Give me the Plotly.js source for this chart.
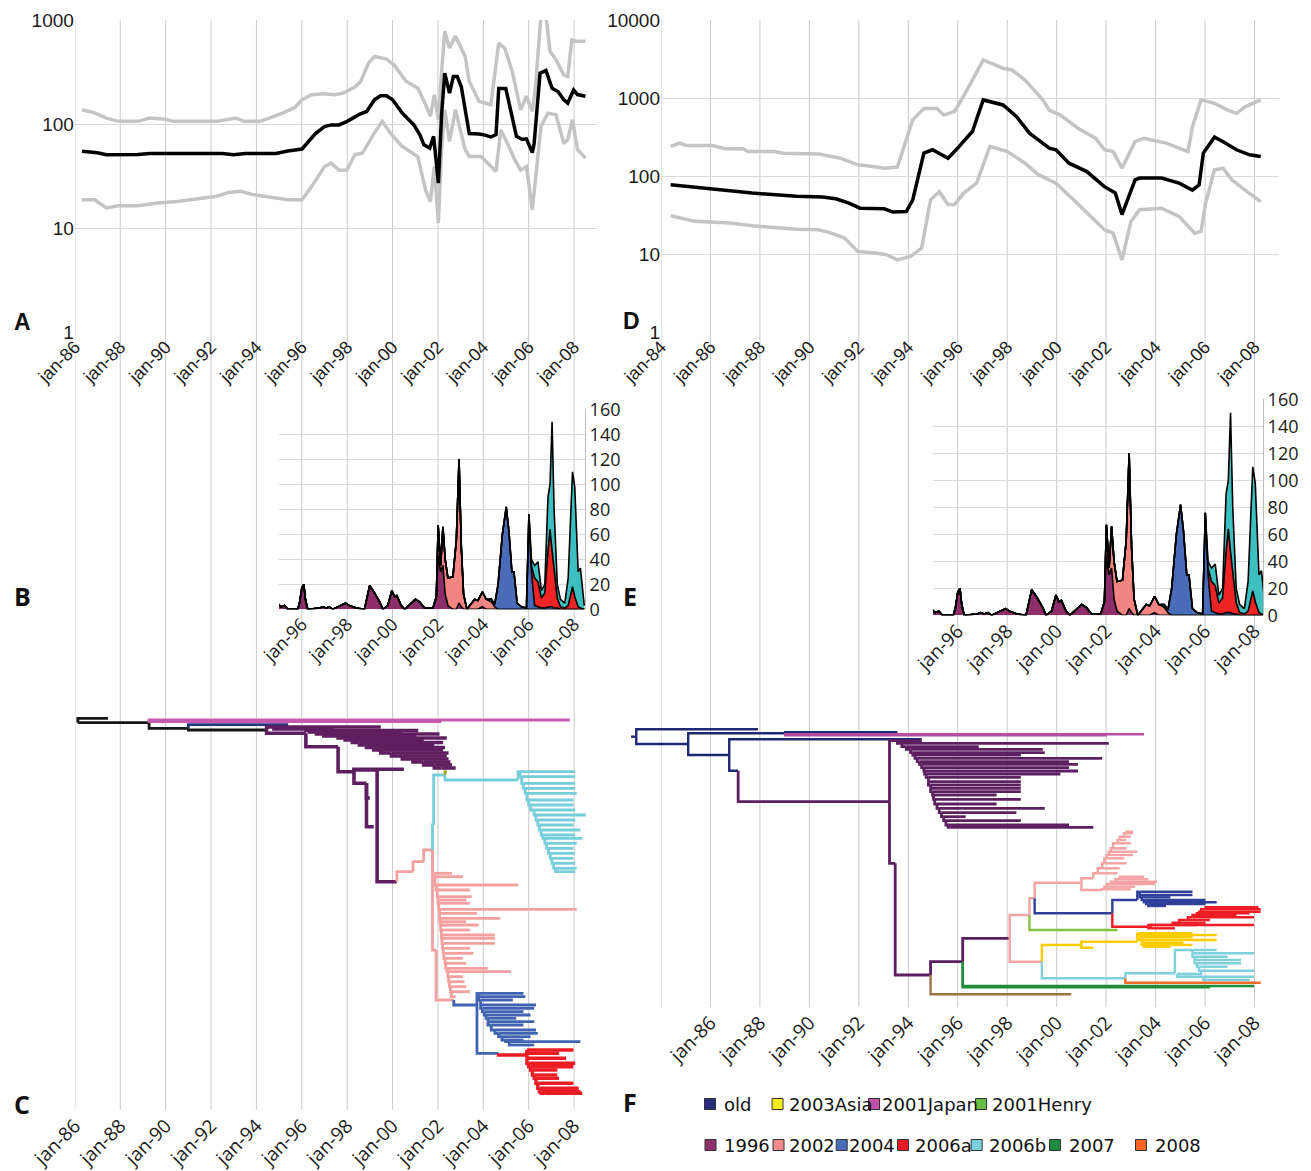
<!DOCTYPE html>
<html><head><meta charset="utf-8">
<script src="https://cdn.plot.ly/plotly-3.0.1.min.js"></script>
<style>html,body{margin:0;padding:0;background:#fff}#chart{width:1311px;height:1171px}</style>
</head><body><div id="chart"></div>
<script>
// ================= DATA =================
// Panel A: effective population size (median and 95% HPD), left dataset
const aMedYear=[1986.31,1986.99,1987.39,1987.91,1988.78,1989.3,1990.5,1991.5,1992.5,1993.0,1993.5,1994.86,1995.38,1996.01,1996.34,1996.6,1997.0,1997.29,1997.64,1998.0,1998.51,1998.86,1999.2,1999.47,1999.73,2000.0,2000.42,2000.94,2001.2,2001.38,2001.64,2001.81,2002.02,2002.16,2002.3,2002.51,2002.68,2002.85,2003.03,2003.38,2003.81,2004.0,2004.33,2004.56,2004.68,2004.99,2005.46,2005.72,2005.9,2006.16,2006.24,2006.5,2006.76,2007.03,2007.29,2007.55,2007.72,2007.98,2008.15,2008.5];
const aMed=[54.6,53,50.6,50.6,51,52,52,52,52,50.5,52,52,55,57.5,70.5,81,94.6,98,98,106,123,132,171,187,187,171,128,98,79,63,58.6,76,27,123,308,198,287,287,228,81,80,79,75,79,220,220,76,71,72,53,65,308,327,220,205,171,159,212,192,185];
const aUpYear=[1986.31,1986.87,1987.39,1987.91,1988.78,1989.30,1989.99,1990.33,1992.25,1993.11,1993.45,1994.15,1994.66,1995.18,1995.70,1996.01,1996.43,1996.95,1997.47,1997.82,1998.34,1998.60,1998.94,1999.20,1999.73,2000.07,2000.59,2001.11,2001.46,2001.67,2001.84,2002.02,2002.16,2002.30,2002.51,2002.77,2003.20,2003.38,2003.81,2004.33,2004.68,2004.94,2005.29,2005.64,2005.90,2006.16,2006.30,2006.54,2006.76,2006.94,2007.20,2007.55,2007.72,2007.90,2008.07,2008.50];
const aUp=[137,128,114,106,106,114,111,106,106,114,106,106,116,128,145,171,191,195,191,198,227,258,385,446,421,370,258,222,153,119,191,110,311,780,537,700,446,258,165,153,600,537,311,137,185,132,228,1100,1100,500,416,295,286,645,626,626];
const aLowYear=[1986.31,1986.87,1987.39,1987.91,1988.78,1989.65,1990.52,1991.39,1992.25,1992.78,1993.30,1993.82,1994.86,1995.38,1996.01,1996.43,1997.0,1997.29,1997.64,1997.98,1998.34,1998.68,1999.20,1999.55,1999.90,2000.42,2001.11,2001.46,2001.67,2001.84,2002.02,2002.16,2002.30,2002.51,2002.77,2003.20,2003.38,2003.90,2004.56,2004.77,2005.12,2005.38,2005.64,2005.90,2006.16,2006.30,2006.54,2006.85,2007.20,2007.55,2007.72,2007.93,2008.15,2008.50];
const aLow=[18.7,18.7,15.6,16.4,16.4,17.4,18,19,20.2,22,22.5,21,19.4,18.7,18.7,25,39,42,36,36,50.6,52.6,82,106,82,61,48.7,23,18,39,11.2,56.8,137,68,137,56.8,48.7,48.7,35,88,61,45.6,36,39,15,32,95,127,123,65,71,110,56.8,47];

// Panel D: right dataset
const dMedYear=[1984.39,1984.66,1985.90,1987.69,1989.47,1990.53,1991.07,1991.60,1992.05,1993.03,1993.38,1993.92,1994.18,1994.63,1994.98,1995.61,1996.05,1996.59,1997.03,1997.83,1998.37,1998.90,1999.26,1999.70,1999.97,2000.50,2001.22,2001.93,2002.37,2002.64,2003.17,2003.35,2004.24,2004.95,2005.49,2005.76,2005.93,2006.38,2006.73,2007.27,2007.80,2008.25];
const dMed=[77,75.5,70,60.5,55,53.7,51,45,38.7,38,34.5,35,49.6,197,217,169,238,372,944,815,580,354,290,227,217,146,114,73,60.5,32,89,94,94,81,66,77,197,315,275,217,187,178];
const dUpYear=[1984.39,1984.75,1985.01,1986.08,1986.62,1987.33,1987.51,1988.58,1988.93,1990.36,1991.25,1991.96,1992.49,1993.03,1993.56,1993.74,1994.18,1994.63,1995.16,1995.43,1995.87,1996.41,1997.03,1997.83,1998.19,1998.72,1999.44,1999.70,2000.15,2000.86,2001.57,2001.93,2002.28,2002.64,2003.17,2003.53,2004.42,2004.95,2005.31,2005.49,2005.84,2006.38,2006.91,2007.27,2007.62,2008.25];
const dUp=[239,264,246,246,223,223,206,206,196,192,169,139,133,126,130,196,525,735,735,604,671,1330,3070,2410,2290,1700,945,700,604,410,305,217,206,126,275,305,264,227,206,430,945,855,700,635,770,945];
const dLowYear=[1984.39,1984.84,1985.37,1986.80,1987.69,1988.58,1989.47,1990.36,1990.89,1991.42,1991.96,1992.67,1993.12,1993.56,1994.09,1994.54,1994.90,1995.25,1995.61,1995.87,1996.23,1996.76,1997.30,1998.01,1998.72,1999.26,1999.97,2000.68,2001.39,2001.93,2002.28,2002.64,2003.00,2003.35,2004.24,2004.95,2005.58,2005.84,2006.02,2006.38,2006.73,2007.09,2007.62,2008.25];
const dLow=[30.9,28.8,26.2,25,23,21.9,20.8,20.5,18.5,16,10.8,10.3,9.8,8.4,9.3,11.9,49.5,63,43,43,60,81,239,206,146,104,81,49.6,30.4,20.5,18.5,8.4,26,37,38.6,30.4,18.5,19.5,44.8,120,126,89,66,47];

// Panels B and E: sequences per sampling date by clade (stacked)
const hYear=[1994.97,1995.09,1995.24,1995.38,1995.82,1995.90,1996.00,1996.09,1996.16,1996.26,1996.78,1996.93,1997.07,1997.22,1997.37,1997.74,1997.93,1998.10,1998.40,1998.76,1998.99,1999.21,1999.43,1999.57,1999.79,1999.97,2000.09,2000.19,2000.38,2000.53,2000.82,2001.01,2001.19,2001.41,2001.78,2001.93,2002.01,2002.12,2002.22,2002.32,2002.44,2002.66,2002.81,2002.93,2003.03,2003.13,2003.28,2003.62,2003.76,2003.96,2004.13,2004.35,2004.50,2004.65,2004.84,2005.01,2005.13,2005.26,2005.35,2005.49,2005.68,2005.90,2006.01,2006.12,2006.26,2006.41,2006.56,2006.71,2006.85,2006.94,2007.03,2007.12,2007.26,2007.40,2007.59,2007.74,2007.84,2007.93,2008.03,2008.18,2008.28,2008.40,2008.45];
const h1996=[4,2,3,0,0,5,17,20,8,0,1,2,1,2,0,3,5,3,1,0,19,13,6,0,3,15,10,11,3,0,5,8,6,1,1,10,43,30,35,12,3,0,0,5,2,0,0,0,0,2,0,0,0,0,0,0,0,0,0,0,0,0,0,0,0,0,0,0,0,0,0,0,0,0,0,0,0,0,0,0,0,0,0];
const h2002=[0,0,0,0,0,0,0,0,0,0,0,0,0,0,0,0,0,0,0,0,0,0,0,0,0,0,0,0,0,0,0,0,0,0,0,0,24,5,31,28,22,26,55,115,48,12,0,8,7,12,8,6,2,0,0,0,0,0,0,0,0,0,0,0,0,0,0,0,0,0,0,0,0,0,0,0,0,0,0,0,0,0,0];
const h2004=[0,0,0,0,0,0,0,0,0,0,0,0,0,0,0,0,0,0,0,0,0,0,0,0,0,0,0,0,0,0,0,0,0,0,0,0,0,0,0,0,0,0,0,0,0,0,0,0,0,0,0,2,2,20,60,82,62,30,30,5,2,1,76,30,3,2,1,1,2,2,2,1,1,0,0,0,0,0,0,0,0,0,0];
const h2006a=[0,0,0,0,0,0,0,0,0,0,0,0,0,0,0,0,0,0,0,0,0,0,0,0,0,0,0,0,0,0,0,0,0,0,0,0,0,0,0,0,0,0,0,0,0,0,0,0,0,0,0,0,0,0,0,0,0,0,0,0,0,0,0,5,22,20,8,12,45,62,45,30,8,2,1,3,10,18,10,2,1,0,0];
const h2006b=[0,0,0,0,0,0,0,0,0,0,0,0,0,0,0,0,0,0,0,0,0,0,0,0,0,0,0,0,0,0,0,0,0,0,0,0,0,0,0,0,0,0,0,0,0,0,0,0,0,0,0,0,0,0,0,0,0,0,0,0,0,0,0,5,10,16,6,7,43,36,103,49,11,6,4,22,60,92,88,28,32,8,3];

// Panel C tree: node year, vertical order, parent, clade
const cNodeYear=[1986.13,1987.46,1989.27,2007.81,1991.00,1995.40,1994.45,2002.15,1996.18,1997.60,1998.30,2000.50,1998.85,1999.00,1999.17,1999.32,2000.19,2000.90,2001.37,2001.76,2001.81,2002.31,2002.39,2005.53,2001.92,2002.70,2003.72,2004.67,2005.92];
const cNodeRow=[22.7,18.3,22.7,20,28.3,24.7,30,21.7,33.3,46.7,71.7,69.3,83.3,98,126.7,70,181.7,171.7,161.7,150,125,75,71.7,80,250,300,305,353.3,355];
const cNodeParent=[-1,0,0,2,2,4,4,2,6,8,9,10,10,12,12,10,15,16,17,18,19,20,21,21,19,24,25,26,27];
const cNodeClade=['root','root','root','2001Japan','root','old','root','2001Japan','1996','1996','1996','1996','1996','1996','1996','1996','1996','2002','2002','2002','2006b','2006b','2003Asia','2006b','2002','2002','2004','2004','2006a'];
const cLad1996Start=[1994.77,1996.18,1996.34,1996.65,1996.97,1997.60,1997.91,1998.23,1998.54,1998.85,1999.17,1999.48,1999.95,2000.43,2000.90,2001.37,2001.84,2002.15];
const cLad1996Row=[27,29,30.5,32,34,36,38,40,42.5,45,47.5,50,53,56,59,62,65,68];
const cLad1996End=[1999.48,1997.44,2001.13,2000.43,2002.07,2001.05,2002.39,2001.37,2002.23,2001.84,2002.31,2002.23,2002.47,2002.39,2002.47,2002.55,2002.62,2002.78];
const cLad2006bStart=[2005.61,2005.69,2005.77,2005.85,2005.92,2006.00,2006.08,2006.24,2006.32,2006.40,2006.47,2006.55,2006.63,2006.71,2006.79,2006.87,2006.95,2007.02,2007.10,2007.18,2007.34];
const cLad2006bRow=[71.7,76.7,83.3,88.3,93.3,100,105,110,115,120,125,130,135,138.3,143.3,148.3,153.3,158.3,163.3,168.3,171.7];
const cLad2006bEnd=[2008.05,2008.05,2008.05,2008.05,2008.12,2007.97,2007.97,2008.05,2008.52,2008.05,2007.97,2008.28,2008.05,2008.36,2008.12,2007.97,2008.05,2007.97,2008.05,2008.12,2008.05];
const cLad2002Start=[2001.84,2001.87,2001.92,2001.97,2002.00,2002.00,2002.03,2002.07,2002.07,2002.07,2002.11,2002.12,2002.15,2002.15,2002.18,2002.20,2002.23,2002.26,2002.31,2002.34,2002.39,2002.43,2002.47,2002.51,2002.55,2002.59,2002.62];
const cLad2002Row=[173.3,176.7,185,190,196.7,200,203.3,209.3,213.3,218.3,221.7,225,230,235,238.3,243.3,248.3,253.3,258.3,263.3,268.3,271.7,276.7,281.7,286.7,291.7,296.7];
const cLad2002End=[2002.62,2003.10,2005.53,2003.41,2003.49,2003.25,2003.41,2008.12,2003.72,2004.75,2003.25,2003.80,2003.41,2004.51,2004.51,2004.51,2003.41,2003.57,2003.10,2003.25,2004.20,2005.22,2003.10,2003.17,2003.25,2003.41,2002.78];
const cLad2004Start=[2003.80,2003.80,2003.88,2003.88,2003.96,2004.04,2004.12,2004.20,2004.20,2004.35,2004.51,2004.67,2004.82,2004.98,2005.14,2005.22];
const cLad2004Row=[293.3,296.7,300,305,308.3,311.7,315,318.3,321.7,325,330,333.3,336.7,340,341.7,345];
const cLad2004End=[2005.77,2005.85,2005.30,2006.32,2006.24,2005.77,2006.08,2005.45,2006.24,2005.77,2006.32,2006.40,2006.08,2005.77,2008.28,2006.24];
const cLad2006aStart=[2005.92,2005.92,2005.92,2006.00,2006.08,2006.16,2006.24,2006.32,2006.40,2006.47,2006.55,2006.71];
const cLad2006aRow=[350,353.3,358.3,363.3,366.7,370,375,378.3,383.3,388.3,391.7,393.3];
const cLad2006aEnd=[2007.97,2007.34,2007.65,2008.05,2007.97,2007.26,2007.26,2007.34,2007.97,2008.20,2008.28,2008.36];

// Panel F tree
const fNodeYear=[1982.79,1983.00,1987.92,1985.10,1989.02,1993.56,2003.53,2002.02,1986.76,1994.54,1987.12,1993.24,1993.47,1994.90,2000.59,1996.20,1998.10,2007.98,2006.20,1998.90,1999.40,1999.11,2002.46,2001.00,2002.25,2003.26,2003.71,2007.98,2001.00,2001.48,2003.26,2002.78,2004.78,2008.25,2001.48,2001.84];
const fNodeRow=[36.7,36.7,29.3,44,33.3,32.3,34.3,35.3,55,39.3,70.7,101.7,163.3,275,294.3,261.7,238.3,286,287.3,215,261.7,198.3,230,182.7,213.3,200,226.7,225,245,247.7,241.7,278.3,273.3,282.7,178.3,190];
const fNodeParent=[-1,0,1,1,3,4,4,4,3,8,8,10,11,12,13,13,15,15,15,16,16,19,19,21,21,24,24,26,20,28,28,20,31,31,23,23];
const fNodeClade=['old','old','old','old','old','old','2001Japan','2001Japan','old','old','old','1996','1996','1996','other','1996','1996','2007','2007','2002','2002','2002','2001Henry','2002','2004','2004','2006a','2006a','2003Asia','2003Asia','2003Asia','2006b','2006b','2008','2002','2002'];
const fLad1996Start=[1993.56,1993.74,1993.92,1994.09,1994.18,1994.27,1994.36,1994.45,1994.54,1994.63,1994.66,1994.72,1994.81,1994.81,1994.90,1994.90,1994.98,1995.02,1995.07,1995.16,1995.25,1995.34,1995.43,1995.52,1995.61,1995.70];
const fLad1996Row=[40.7,43.3,46.7,49.3,52.7,55,58.3,61.7,64.3,67.7,71,74,77.3,81.7,85,88.3,91.7,95,99.3,104,108.3,112.7,116.7,120.7,125,127.3];
const fLad1996End=[1994.54,2002.11,1996.85,1999.44,1999.52,1998.55,2001.84,2000.50,2000.86,2000.50,2000.86,2000.15,1998.55,1998.55,1998.55,1998.55,1998.55,1997.57,1998.55,1997.57,1999.52,1998.37,1996.32,1998.55,2000.50,2001.48];
const fLad2002aStart=[2001.66,2001.84,2001.93,2002.02,2002.11,2002.19,2002.28,2002.46,2002.55,2002.73,2002.82,2003.00];
const fLad2002aRow=[173.3,168.3,163.3,158.3,155,151.7,148.3,143.3,140,136.7,133.3,131.7];
const fLad2002aEnd=[2002.46,2002.55,2002.82,2002.73,2003.09,2003.26,2002.82,2003.00,2002.82,2003.00,2003.09,2003.09];
const fLad2002bStart=[2001.93,2002.02,2002.19,2002.37,2002.55,2003.00];
const fLad2002bRow=[189.3,186.7,184,181.7,179.3,176.7];
const fLad2002bEnd=[2003.00,2003.17,2003.97,2004.06,2003.71,2003.53];
const fLad2004Start=[2003.35,2003.35,2003.44,2003.53,2003.62,2003.71,2003.80];
const fLad2004Row=[191.7,195,197.3,200,202.3,204,206];
const fLad2004End=[2005.49,2005.49,2004.60,2006.02,2006.47,2006.02,2004.42];
const fLad2006aStart=[2003.80,2004.69,2004.95,2005.31,2005.49,2005.67,2005.76,2005.84,2006.02,2006.20];
const fLad2006aRow=[228.3,225,222.7,220,217.3,215,213.3,211.7,209.3,207.3];
const fLad2006aEnd=[2004.78,2005.67,2006.02,2006.20,2007.98,2007.27,2007.80,2008.25,2008.25,2008.16];
const fLadAsiaStart=[2003.26,2003.35,2003.35,2003.44,2003.44,2003.53,2003.71];
const fLadAsiaRow=[233.3,235,237.3,240,242.7,245,246.7];
const fLadAsiaEnd=[2005.49,2006.47,2005.49,2006.47,2005.13,2005.49,2004.60];
const fLad2006bStart=[2005.49,2005.49,2005.58,2005.58,2005.67,2005.76,2005.84,2004.87,2005.93,2006.11];
const fLad2006bRow=[250,253.3,256.7,260,263.3,266.7,270.7,274,276.7,280];
const fLad2006bEnd=[2006.47,2007.98,2006.91,2007.45,2007.45,2006.91,2007.98,2005.49,2007.98,2007.80];

// Tick labels
const leftTickYears=[1986,1988,1990,1992,1994,1996,1998,2000,2002,2004,2006,2008];
const leftTickText=['jan-86','jan-88','jan-90','jan-92','jan-94','jan-96','jan-98','jan-00','jan-02','jan-04','jan-06','jan-08'];
const rightTickYears=[1984,1986,1988,1990,1992,1994,1996,1998,2000,2002,2004,2006,2008];
const rightTickText=['jan-84','jan-86','jan-88','jan-90','jan-92','jan-94','jan-96','jan-98','jan-00','jan-02','jan-04','jan-06','jan-08'];
const histTickYears=[1996,1998,2000,2002,2004,2006,2008];
const histTickText=['jan-96','jan-98','jan-00','jan-02','jan-04','jan-06','jan-08'];
const histTickVals=[0,20,40,60,80,100,120,140,160];
const logTicksA=[1,10,100,1000];
const logTicksD=[1,10,100,1000,10000];
const legendRow1=['old','2003Asia','2001Japan','2001Henry'];
const legendRow2=['1996','2002','2004','2006a','2006b','2007','2008'];

// ================= LAYOUT HELPERS =================
const W=1311,H=1171;
const LX0=74.9,LPPY=22.69,LY0=1986;
const RX0=661,RPPY=24.73,RY0=1984;
const lYear=p=>LY0+(p-LX0)/LPPY;
const rYear=p=>RY0+(p-RX0)/RPPY;
const fx=p=>p/W, fy=p=>1-p/H;

const colorsHist={'1996':'#8d2e6b','2002':'#f28482','2004':'#4a6bb8','2006a':'#ee2326','2006b':'#3dbfbf'};
const cColors={root:'#151515',old:'#2a3580','2001Japan':'#c65aae','1996':'#5f1e5f','2002':'#f4a0a0','2006b':'#76cedb','2003Asia':'#a9a51c','2004':'#3f63b1','2006a':'#ec1c24'};
const fColors={old:'#1e2873','2001Japan':'#b54ba3','1996':'#5c1f60',other:'#9b7446','2007':'#1f8d3b','2002':'#f4a2a2','2001Henry':'#84c441','2004':'#2e409c','2006a':'#ee1c24','2003Asia':'#ffcc00','2006b':'#7ed0dc','2008':'#f26a2a'};
const legendColors={'old':'#262f7e','2003Asia':'#f5ee1c','2001Japan':'#c150a6','2001Henry':'#68bd45','1996':'#8f2f6c','2002':'#f18a8a','2004':'#4c6cbc','2006a':'#ec1c24','2006b':'#79d0dd','2007':'#1d8a3d','2008':'#f26522'};

function treeTraces(year,row,parent,clade,ladders,colors,order,xa,ya,w,wOver){
  const segs={};
  const add=(c,x0,r0,x1,r1)=>{segs[c]=segs[c]||{x:[],y:[]};segs[c].x.push(x0,x0,x1,null);segs[c].y.push(r0,r1,r1,null);};
  for(let i=0;i<year.length;i++){const p=parent[i];if(p<0)continue;add(clade[i],year[p],row[p],year[i],row[i]);}
  ladders.forEach(L=>{
    let px=year[L.attach],pr=row[L.attach];
    for(let k=0;k<L.start.length;k++){
      add(L.clade,px,pr,L.start[k],L.row[k]);
      add(L.clade,L.start[k],L.row[k],L.end[k],L.row[k]);
      px=L.start[k];pr=L.row[k];
    }
  });
  return order.filter(c=>segs[c]).map(c=>({type:'scatter',mode:'lines',x:segs[c].x,y:segs[c].y,xaxis:xa,yaxis:ya,
    line:{color:colors[c],width:(wOver&&wOver[c])||w},hoverinfo:'skip',showlegend:false,connectgaps:false}));
}

const traces=[];
// A
const grey='#c4c4c4';
traces.push({type:'scatter',mode:'lines',x:aUpYear,y:aUp,xaxis:'x',yaxis:'y',line:{color:grey,width:3.5}});
traces.push({type:'scatter',mode:'lines',x:aLowYear,y:aLow,xaxis:'x',yaxis:'y',line:{color:grey,width:3.5}});
traces.push({type:'scatter',mode:'lines',x:aMedYear,y:aMed,xaxis:'x',yaxis:'y',line:{color:'#000',width:3.5}});
// D
traces.push({type:'scatter',mode:'lines',x:dUpYear,y:dUp,xaxis:'x4',yaxis:'y4',line:{color:grey,width:3.5}});
traces.push({type:'scatter',mode:'lines',x:dLowYear,y:dLow,xaxis:'x4',yaxis:'y4',line:{color:grey,width:3.5}});
traces.push({type:'scatter',mode:'lines',x:dMedYear,y:dMed,xaxis:'x4',yaxis:'y4',line:{color:'#000',width:3.5}});
// B, E
const histSeries=[['1996',h1996],['2002',h2002],['2004',h2004],['2006a',h2006a],['2006b',h2006b]];
[['x2','y2','b'],['x5','y5','e']].forEach(([xa,ya,g])=>{
  histSeries.forEach(([name,vals])=>{
    traces.push({type:'scatter',mode:'lines',x:hYear,y:vals,xaxis:xa,yaxis:ya,stackgroup:g,
      line:{color:'#000',width:1.6},fillcolor:colorsHist[name]});
  });
});
// C tree
const cOrder=['root','old','2001Japan','1996','2002','2006b','2003Asia','2004','2006a'];
treeTraces(cNodeYear,cNodeRow,cNodeParent,cNodeClade,[
  {attach:6,clade:'1996',start:cLad1996Start,row:cLad1996Row,end:cLad1996End},
  {attach:23,clade:'2006b',start:cLad2006bStart,row:cLad2006bRow,end:cLad2006bEnd},
  {attach:19,clade:'2002',start:cLad2002Start,row:cLad2002Row,end:cLad2002End},
  {attach:26,clade:'2004',start:cLad2004Start,row:cLad2004Row,end:cLad2004End},
  {attach:28,clade:'2006a',start:cLad2006aStart,row:cLad2006aRow,end:cLad2006aEnd}
],cColors,cOrder,'x3','y3',2.8,{'1996':3.6,'2006a':3.4}).forEach(t=>traces.push(t));
// F tree
const fOrder=['old','2001Japan','1996','other','2007','2002','2001Henry','2004','2006a','2003Asia','2006b','2008'];
treeTraces(fNodeYear,fNodeRow,fNodeParent,fNodeClade,[
  {attach:11,clade:'1996',start:fLad1996Start,row:fLad1996Row,end:fLad1996End},
  {attach:34,clade:'2002',start:fLad2002aStart,row:fLad2002aRow,end:fLad2002aEnd},
  {attach:35,clade:'2002',start:fLad2002bStart,row:fLad2002bRow,end:fLad2002bEnd},
  {attach:25,clade:'2004',start:fLad2004Start,row:fLad2004Row,end:fLad2004End},
  {attach:26,clade:'2006a',start:fLad2006aStart,row:fLad2006aRow,end:fLad2006aEnd},
  {attach:30,clade:'2003Asia',start:fLadAsiaStart,row:fLadAsiaRow,end:fLadAsiaEnd},
  {attach:32,clade:'2006b',start:fLad2006bStart,row:fLad2006bRow,end:fLad2006bEnd}
],fColors,fOrder,'x6','y6',2.4,{'1996':2.8}).forEach(t=>traces.push(t));
traces.forEach(t=>{t.hoverinfo='skip';t.showlegend=false;});

// axes
const arialTick={family:'Liberation Sans',size:18,color:'#1a1a1a'};
const arialY={family:'Liberation Sans',size:19,color:'#1a1a1a'};
const humTick={family:'Open Sans',size:18,color:'#1a1a1a'};
const humTickBig={family:'Open Sans',size:19,color:'#1a1a1a'};
const gridC='#dadada';
const baseX={showgrid:false,zeroline:false,showline:false,ticks:'',tickangle:-45,tickmode:'array',fixedrange:true};
const layout={
  width:W,height:H,margin:{l:0,r:0,t:0,b:0},paper_bgcolor:'#fff',plot_bgcolor:'rgba(0,0,0,0)',showlegend:false,
  xaxis:Object.assign({},baseX,{domain:[fx(LX0),fx(597)],range:[lYear(LX0),lYear(597)],anchor:'y',tickvals:leftTickYears,ticktext:leftTickText,tickfont:arialTick}),
  yaxis:{domain:[fy(332),fy(20)],type:'log',range:[0,3],anchor:'x',tickmode:'array',tickvals:logTicksA,ticktext:logTicksA.map(String),showgrid:true,gridcolor:gridC,zeroline:false,showline:false,ticks:'',tickfont:arialY},
  xaxis2:Object.assign({},baseX,{domain:[fx(279),fx(585)],range:[lYear(279),lYear(585)],anchor:'y2',tickvals:histTickYears,ticktext:histTickText,tickfont:humTick}),
  yaxis2:{domain:[fy(609.3),fy(409.3)],range:[0,160],anchor:'x2',side:'right',tickmode:'array',tickvals:histTickVals,showgrid:true,gridcolor:gridC,zeroline:false,showline:true,linecolor:'#bdbdbd',ticks:'',tickfont:humTick},
  xaxis3:Object.assign({},baseX,{domain:[fx(LX0),fx(597)],range:[lYear(LX0),lYear(597)],anchor:'y3',tickvals:leftTickYears,ticktext:leftTickText,tickfont:humTickBig}),
  yaxis3:{domain:[fy(1110),fy(700)],range:[410,0],anchor:'x3',showgrid:false,zeroline:false,showticklabels:false,ticks:'',showline:false},
  xaxis4:Object.assign({},baseX,{domain:[fx(RX0),fx(1279)],range:[rYear(RX0),rYear(1279)],anchor:'y4',tickvals:rightTickYears,ticktext:rightTickText,tickfont:arialTick}),
  yaxis4:{domain:[fy(332),fy(20)],type:'log',range:[0,4],anchor:'x4',tickmode:'array',tickvals:logTicksD,ticktext:logTicksD.map(String),showgrid:true,gridcolor:gridC,zeroline:false,showline:false,ticks:'',tickfont:arialY},
  xaxis5:Object.assign({},baseX,{domain:[fx(933),fx(1263)],range:[rYear(933),rYear(1263)],anchor:'y5',tickvals:histTickYears,ticktext:histTickText,tickfont:humTickBig}),
  yaxis5:{domain:[fy(615.3),fy(399.3)],range:[0,160],anchor:'x5',side:'right',tickmode:'array',tickvals:histTickVals,showgrid:true,gridcolor:gridC,zeroline:false,showline:true,linecolor:'#bdbdbd',ticks:'',tickfont:humTick},
  xaxis6:Object.assign({},baseX,{domain:[fx(625),fx(1279)],range:[rYear(625),rYear(1279)],anchor:'y6',tickvals:leftTickYears,ticktext:leftTickText,tickfont:humTickBig}),
  yaxis6:{domain:[fy(1007),fy(700)],range:[307,0],anchor:'x6',showgrid:false,zeroline:false,showticklabels:false,ticks:'',showline:false},
  shapes:[],annotations:[]
};
// vertical column gridlines
const vgrid='#cacaca';
leftTickYears.forEach(yr=>layout.shapes.push({type:'line',layer:'below',xref:'x',yref:'paper',x0:yr,x1:yr,y0:fy(1110),y1:fy(20),line:{color:vgrid,width:1}}));
rightTickYears.forEach(yr=>layout.shapes.push({type:'line',layer:'below',xref:'x4',yref:'paper',x0:yr,x1:yr,y0:fy(1007),y1:fy(20),line:{color:vgrid,width:1}}));
// panel letters
const letterFont={family:'Liberation Sans',size:23,color:'#111'};
const letterFont2={family:'Open Sans',size:25,color:'#111'};
[['A',22,322,letterFont],['D',631,321,letterFont],['B',22,596,letterFont2],['E',630,596,letterFont2],['C',22,1104,letterFont2],['F',630,1102,letterFont2]].forEach(([t,x,y,f])=>{
  layout.annotations.push({text:'<b>'+t+'</b>',xref:'paper',yref:'paper',x:fx(x),y:fy(y),xanchor:'center',yanchor:'middle',showarrow:false,font:f});
});
// legend (manual)
const legFont={family:'DejaVu Sans',size:18,color:'#111'};
const leg1Sq=[710,777.5,874,981], leg1Tx=[722,787,880,990];
const leg2Sq=[710.5,778.5,841.7,903,976.7,1055,1141], leg2Tx=[722,787,847,913,987,1067,1153];
function legItem(label,sq,tx,yc){
  layout.shapes.push({type:'rect',xref:'paper',yref:'paper',x0:fx(sq-5.5),x1:fx(sq+5.5),y0:fy(yc+5.5),y1:fy(yc-5.5),fillcolor:legendColors[label],line:{color:'#333',width:1}});
  layout.annotations.push({text:label,xref:'paper',yref:'paper',x:fx(tx),y:fy(yc),xanchor:'left',yanchor:'middle',showarrow:false,font:legFont});
}
legendRow1.forEach((l,i)=>legItem(l,leg1Sq[i],leg1Tx[i],1104));
legendRow2.forEach((l,i)=>legItem(l,leg2Sq[i],leg2Tx[i],1145));

Plotly.newPlot('chart',traces,layout,{staticPlot:true,displayModeBar:false});
</script></body></html>
